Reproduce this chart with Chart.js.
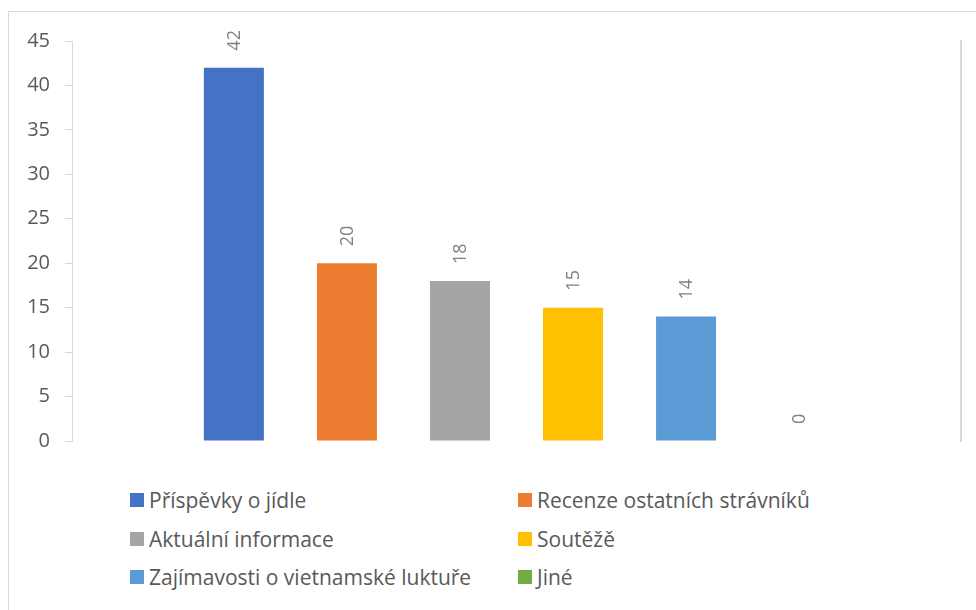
<!DOCTYPE html>
<html lang="cs">
<head>
<meta charset="utf-8">
<title>Příspěvky</title>
<script src="https://cdn.jsdelivr.net/npm/chart.js@4.4.1/dist/chart.umd.min.js"></script>
<style>
    html, body {
        margin: 0;
        padding: 0;
        background: #fff;
        width: 976px;
        height: 610px;
        overflow: hidden;
        font-family: "Open Sans", "Noto Sans", sans-serif;
    }
    .frame {
        position: absolute;
        left: 8px;
        top: 11px;
        width: 1000px;
        height: 640px;
        border: 1px solid #d9d9d9;
        box-sizing: border-box;
    }
    .chart-box {
        position: absolute;
        left: 0;
        top: 0;
        width: 976px;
        height: 468px;
    }
    .legend {
        position: absolute;
        left: 130px;
        top: 481px;
        display: grid;
        grid-template-columns: 388px auto;
        grid-auto-rows: 38.5px;
        color: #595959;
        font-size: 21px;
    }
    .legend-item {
        display: flex;
        align-items: center;
        white-space: nowrap;
    }
    .legend-swatch {
        width: 14px;
        height: 14px;
        margin-right: 5px;
        flex: none;
    }
</style>
</head>
<body>
<div class="frame"></div>
<div class="chart-box"><canvas id="barChart" width="976" height="468"></canvas></div>
<div class="legend" id="legend"></div>

<script>
// Series (one bar each) and their values
const seriesNames = [
    'Příspěvky o jídle',
    'Recenze ostatních strávníků',
    'Aktuální informace',
    'Soutěžě',
    'Zajímavosti o vietnamské luktuře',
    'Jiné'
];
const seriesValues = [42, 20, 18, 15, 14, 0];
const seriesColors = ['#4472C4', '#ED7D31', '#A5A5A5', '#FFC000', '#5B9BD5', '#70AD47'];

// Value axis
const yMin = 0;
const yMax = 45;
const yStep = 5;

const axisColor = '#d9d9d9';
const textColor = '#595959';
const fontFamily = '"Open Sans", "Noto Sans", sans-serif';

// Rotated value labels above each bar
const valueLabels = {
    id: 'valueLabels',
    afterDatasetsDraw(chart) {
        const ctx = chart.ctx;
        ctx.save();
        ctx.fillStyle = '#7f7f7f';
        ctx.font = '18px ' + fontFamily;
        ctx.textAlign = 'left';
        ctx.textBaseline = 'middle';
        chart.data.datasets.forEach((ds, i) => {
            const meta = chart.getDatasetMeta(i);
            meta.data.forEach((bar, j) => {
                ctx.save();
                ctx.translate(bar.x, bar.y - 17);
                ctx.rotate(-Math.PI / 2);
                ctx.fillText(String(ds.data[j]), 0, 1);
                ctx.restore();
            });
        });
        ctx.restore();
    }
};

const datasets = seriesNames.map((name, i) => ({
    label: name,
    data: [seriesValues[i]],
    backgroundColor: seriesColors[i],
    borderWidth: 0,
    categoryPercentage: 0.763,
    barPercentage: 0.531
}));

new Chart(document.getElementById('barChart'), {
    type: 'bar',
    data: {
        labels: [''],
        datasets: datasets
    },
    options: {
        responsive: false,
        animation: false,
        layout: {
            padding: { left: 0, right: 15, top: 41, bottom: 12 }
        },
        plugins: {
            legend: { display: false },
            tooltip: { enabled: false }
        },
        scales: {
            x: {
                display: false
            },
            y: {
                min: yMin,
                max: yMax,
                ticks: {
                    stepSize: yStep,
                    padding: 15,
                    color: textColor,
                    font: { family: fontFamily, size: 20 }
                },
                grid: {
                    drawOnChartArea: false,
                    drawTicks: true,
                    tickLength: 7,
                    color: axisColor
                },
                border: { display: true, color: axisColor, width: 1 },
                afterFit(axis) { axis.width = 72; }
            },
            y1: {
                position: 'right',
                min: yMin,
                max: yMax,
                ticks: { display: false },
                grid: { drawOnChartArea: false, drawTicks: false },
                border: { display: true, color: axisColor, width: 2 },
                afterFit(axis) { axis.width = 0; }
            }
        }
    },
    plugins: [valueLabels]
});

// Two-column legend built from the series
const legendEl = document.getElementById('legend');
seriesNames.forEach((name, i) => {
    const item = document.createElement('div');
    item.className = 'legend-item';
    const swatch = document.createElement('span');
    swatch.className = 'legend-swatch';
    swatch.style.backgroundColor = seriesColors[i];
    const label = document.createElement('span');
    label.textContent = name;
    item.appendChild(swatch);
    item.appendChild(label);
    legendEl.appendChild(item);
});
</script>
</body>
</html>
